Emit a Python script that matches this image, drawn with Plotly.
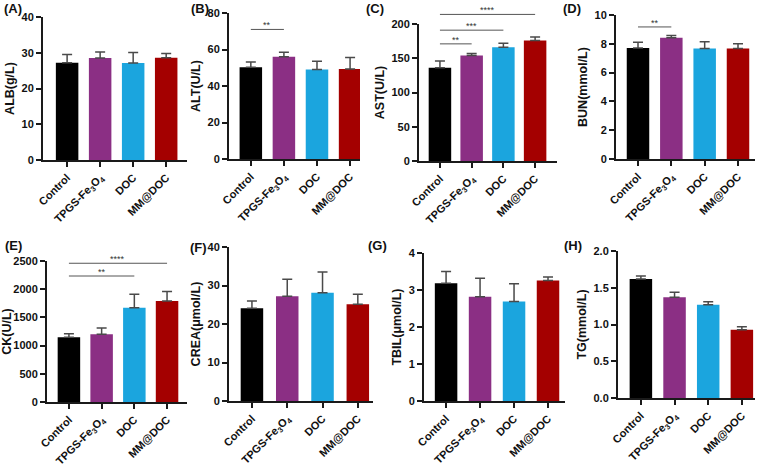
import plotly.graph_objects as go

W, H = 766, 464

categories = ["Control", "TPGS-Fe3O4", "DOC", "MM@DOC"]
tick_labels = ["Control", "TPGS-Fe<sub>3</sub>O<sub>4</sub>", "DOC", "MM@DOC"]
colors = ["#000000", "#8B2F84", "#1BA5DE", "#A40000"]

panel_letters = ["(A)", "(B)", "(C)", "(D)", "(E)", "(F)", "(G)", "(H)"]
y_titles = ["ALB(g/L)", "ALT(U/L)", "AST(U/L)", "BUN(mmol/L)",
            "CK(U/L)", "CREA(μmol/L)", "TBIL(μmol/L)", "TG(mmol/L)"]

alb_mean = [27.2, 28.5, 27.1, 28.6]
alb_sd = [2.3, 1.7, 3.0, 1.2]
alt_mean = [50.3, 56.0, 49.0, 49.3]
alt_sd = [2.8, 2.5, 4.5, 6.3]
ast_mean = [136, 154, 166, 176]
ast_sd = [10, 3, 6, 5]
bun_mean = [7.7, 8.42, 7.67, 7.68]
bun_sd = [0.4, 0.15, 0.48, 0.32]
ck_mean = [1150, 1200, 1670, 1790]
ck_sd = [60, 110, 240, 170]
crea_mean = [24.1, 27.2, 28.1, 25.1]
crea_sd = [1.9, 4.4, 5.4, 2.6]
tbil_mean = [3.18, 2.82, 2.69, 3.26]
tbil_sd = [0.32, 0.5, 0.48, 0.09]
tg_mean = [1.62, 1.37, 1.27, 0.93]
tg_sd = [0.04, 0.07, 0.04, 0.04]

means = [alb_mean, alt_mean, ast_mean, bun_mean, ck_mean, crea_mean, tbil_mean, tg_mean]
sds = [alb_sd, alt_sd, ast_sd, bun_sd, ck_sd, crea_sd, tbil_sd, tg_sd]

y_max = [40, 80, 200, 10, 2500, 40, 4, 2.0]
y_dtick = [10, 20, 50, 2, 500, 10, 1, 0.5]

# significance brackets
sig_panel = [1, 2, 2, 2, 3, 4, 4]
sig_from = ["Control"] * 7
sig_to = ["TPGS-Fe3O4", "TPGS-Fe3O4", "DOC", "MM@DOC", "TPGS-Fe3O4", "DOC", "MM@DOC"]
sig_y = [71, 171, 191, 214, 9.17, 2234, 2460]
sig_text = ["**", "**", "***", "****", "**", "**", "****"]

# layout (pixel boxes: left, right, top, bottom) and category ranges
boxes = [(43, 187, 17, 160), (229, 360, 13, 159), (419, 557, 24, 161), (616, 755, 15, 159),
         (47, 187, 261, 402), (229, 373, 247, 401), (424, 565, 253, 401), (618, 755, 251, 398)]
xranges = [(-0.73, 3.63), (-0.66, 3.3), (-0.66, 3.69), (-0.66, 3.51),
           (-0.67, 3.61), (-0.65, 3.43), (-0.65, 3.5), (-0.68, 3.39)]
letter_pos = [(2, 9), (189, 9), (364, 9), (561, 9), (3, 245), (188, 247), (366, 245), (562, 245)]

FONT = "Arial, Liberation Sans, sans-serif"

fig = go.Figure()
layout = {}
shapes = []
annotations = []

for i in range(8):
    xa = "x" if i == 0 else f"x{i+1}"
    ya = "y" if i == 0 else f"y{i+1}"
    l, r, t, b = boxes[i]
    span = xranges[i][1] - xranges[i][0]
    bw_units = 22.5 / ((r - l) / span)
    fig.add_trace(go.Bar(
        x=categories, y=means[i], xaxis=xa, yaxis=ya,
        marker=dict(color=colors, line=dict(width=0)),
        width=bw_units,
        error_y=dict(type="data", symmetric=False, array=sds[i],
                     arrayminus=[0] * 4, color="#4a4a4a", thickness=1.5, width=5),
        showlegend=False,
    ))
    xkey = "xaxis" if i == 0 else f"xaxis{i+1}"
    ykey = "yaxis" if i == 0 else f"yaxis{i+1}"
    layout[xkey] = dict(
        domain=[l / W, r / W], anchor=ya, type="category", automargin=False,
        range=list(xranges[i]), showline=True, linecolor="#1a1a1a", linewidth=2,
        ticks="outside", ticklen=5, tickwidth=1.5, tickcolor="#1a1a1a",
        tickvals=categories, ticktext=tick_labels, tickangle=-45,
        tickfont=dict(family=FONT, size=11, color="#111", weight="bold"),
        showgrid=False, zeroline=False,
    )
    layout[ykey] = dict(
        domain=[1 - b / H, 1 - t / H], anchor=xa, automargin=False,
        range=[0, y_max[i]], dtick=y_dtick[i], tick0=0,
        showline=True, linecolor="#1a1a1a", linewidth=2,
        ticks="outside", ticklen=5, tickwidth=1.5, tickcolor="#1a1a1a",
        tickfont=dict(family=FONT, size=11, color="#111", weight="bold"),
        tickformat=".1f" if i == 7 else None,
        title=dict(text=y_titles[i], font=dict(family=FONT, size=12.5, color="#111", weight="bold"),
                   standoff=4),
        showgrid=False, zeroline=False,
    )
    annotations.append(dict(
        text=panel_letters[i], x=letter_pos[i][0] / W, y=1 - letter_pos[i][1] / H,
        xref="paper", yref="paper", xanchor="left", yanchor="middle", showarrow=False,
        font=dict(family=FONT, size=13, color="#111", weight="bold"),
    ))

for k in range(len(sig_panel)):
    i = sig_panel[k]
    xa = "x" if i == 0 else f"x{i+1}"
    ya = "y" if i == 0 else f"y{i+1}"
    a = categories.index(sig_from[k])
    bb = categories.index(sig_to[k])
    yfrac = sig_y[k] / y_max[i]
    shapes.append(dict(type="line", xref=xa, yref=f"{ya} domain", x0=a, x1=bb,
                       y0=yfrac, y1=yfrac, line=dict(color="#555555", width=1)))
    annotations.append(dict(
        text=sig_text[k], x=(a + bb) / 2, y=yfrac, xref=xa, yref=f"{ya} domain",
        xanchor="center", yanchor="bottom", showarrow=False, yshift=-3,
        font=dict(family=FONT, size=9, color="#333"),
    ))

fig.update_layout(
    width=W, height=H, margin=dict(l=0, r=0, t=0, b=0, autoexpand=False),
    paper_bgcolor="white", plot_bgcolor="white",
    shapes=shapes, annotations=annotations, bargap=0.3,
    **layout,
)

fig.write_html("out.html", config={"displayModeBar": False},
               post_script="document.body.style.margin='0';document.body.style.overflow='hidden';")
